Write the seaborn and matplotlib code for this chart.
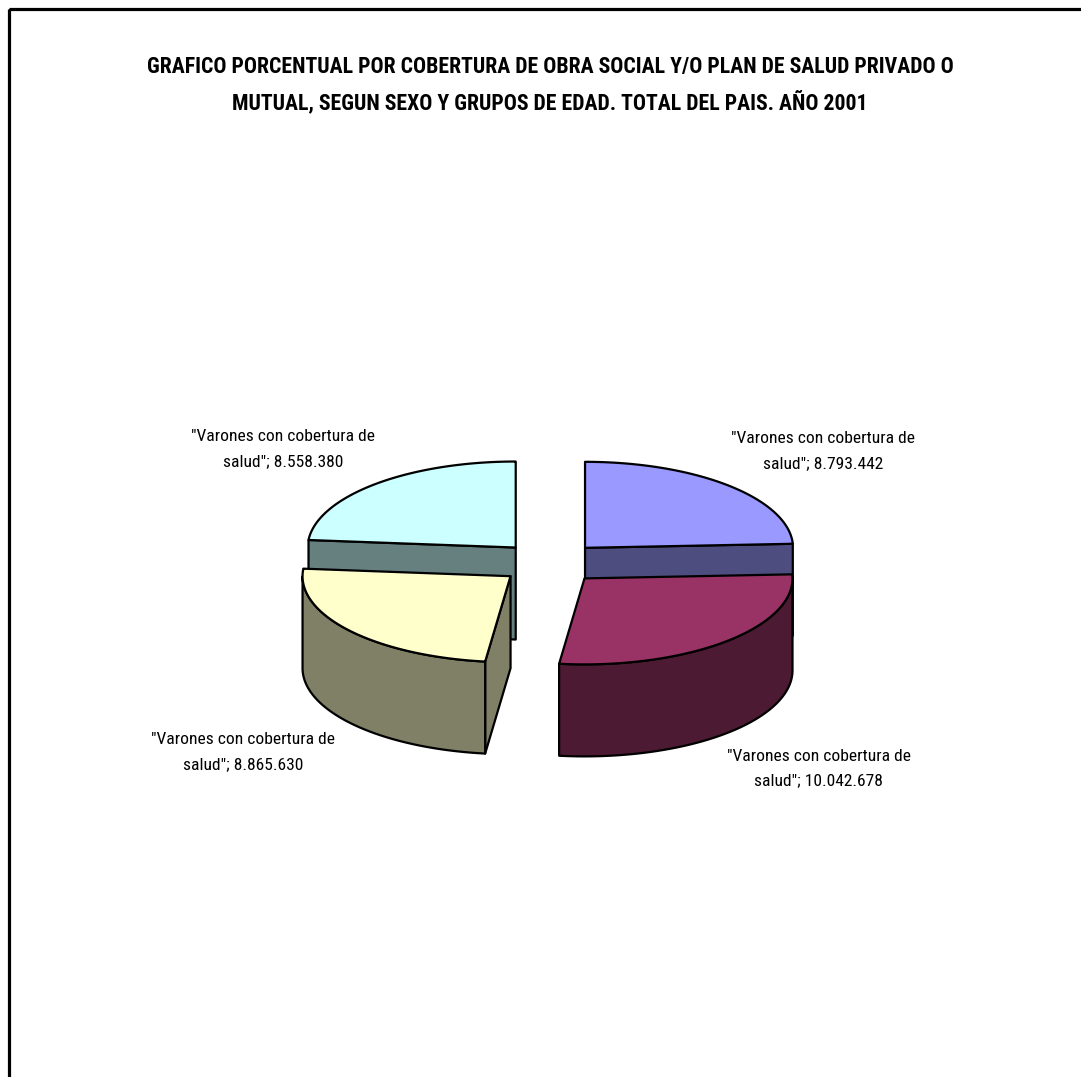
import numpy as np
import matplotlib
matplotlib.use("Agg")
import matplotlib.pyplot as plt
import seaborn as sns
from matplotlib.patches import Polygon, Rectangle

# ---------------- data ----------------
title_lines = ["GRAFICO PORCENTUAL POR COBERTURA DE OBRA SOCIAL Y/O PLAN DE SALUD PRIVADO O",
               "MUTUAL, SEGUN SEXO Y GRUPOS DE EDAD. TOTAL DEL PAIS. AÑO 2001"]
categories = ['"Varones con cobertura de\nsalud"'] * 4
values = [8793442, 10042678, 8865630, 8558380]
top_colors = ["#9999FF", "#993366", "#FFFFCC", "#CCFFFF"]
side_colors = ["#4D4D80", "#4D1A33", "#808066", "#668080"]

# ---------------- style ----------------
sns.set_theme(style="white")
plt.rcParams["font.family"] = ["Roboto Condensed", "DejaVu Sans"]

W, H = 1081, 1077
fig = plt.figure(figsize=(W / 100, H / 100), dpi=100)
ax = fig.add_axes([0, 0, 1, 1])
ax.set_xlim(0, W)
ax.set_ylim(H, 0)
ax.axis("off")

# outer chart border
ax.add_patch(Rectangle((9, 9), 1200, 1200, fill=False, lw=2.3, ec="black"))

for k, line in enumerate(title_lines):
    ax.text(550, 67 + 35 * k, line, ha="center", va="center", fontsize=15.7,
            fontweight="bold", color="black")

# ---------------- 3D exploded pie geometry ----------------
cx, cy = 550, 563       # pie centre
rx, ry = 208, 86        # ellipse radii of the top face
depth = 92              # thickness
explode = 0.244         # in radius units
lbl_ax, lbl_ay = 1.9, 1.8

fracs = np.array(values) / np.sum(values)
ends = 90 - np.cumsum(fracs) * 360
starts = np.concatenate([[90], ends[:-1]])

slices = []
for i, v in enumerate(values):
    lo, hi = np.radians(ends[i]), np.radians(starts[i])
    mid = (lo + hi) / 2
    ox = cx + explode * np.cos(mid) * rx
    oy = cy - explode * np.sin(mid) * ry
    slices.append((oy, i, lo, hi, mid, ox))

def rim(ox, oy, t, z=0):
    return (ox + rx * np.cos(t), oy - ry * np.sin(t) + z)

lw = 1.6
for oy, i, lo, hi, mid, ox in sorted(slices):
    # radial faces facing viewer
    for t, vis in ((lo, np.cos(lo) > 1e-6), (hi, np.cos(hi) < -1e-6)):
        if vis:
            pts = [(ox, oy), rim(ox, oy, t), rim(ox, oy, t, depth), (ox, oy + depth)]
            ax.add_patch(Polygon(pts, closed=True, fc=side_colors[i], ec="black",
                                 lw=lw, joinstyle="round"))
    # outer curved side (front-facing part)
    ts = np.linspace(lo, hi, 600)
    ts = ts[np.sin(ts) < 0]
    if len(ts) > 1:
        top = [rim(ox, oy, t) for t in ts]
        bot = [rim(ox, oy, t, depth) for t in ts[::-1]]
        ax.add_patch(Polygon(top + bot, closed=True, fc=side_colors[i], ec="black",
                             lw=lw, joinstyle="round"))
    # top face
    ts = np.linspace(lo, hi, 300)
    pts = [(ox, oy)] + [rim(ox, oy, t) for t in ts]
    ax.add_patch(Polygon(pts, closed=True, fc=top_colors[i], ec="black",
                         lw=lw, joinstyle="round"))

    # data label
    lx = cx + lbl_ax * rx * np.cos(mid)
    ly = cy - lbl_ay * ry * np.sin(mid) + (depth if np.sin(mid) < 0 else 0)
    txt = f"{categories[i]}; " + f"{values[i]:,}".replace(",", ".")
    ax.text(lx, ly, txt, ha="center", va="center", multialignment="center",
            fontsize=12.6, linespacing=1.82, color="black")

fig.savefig("out.png", dpi=100, facecolor="white")
